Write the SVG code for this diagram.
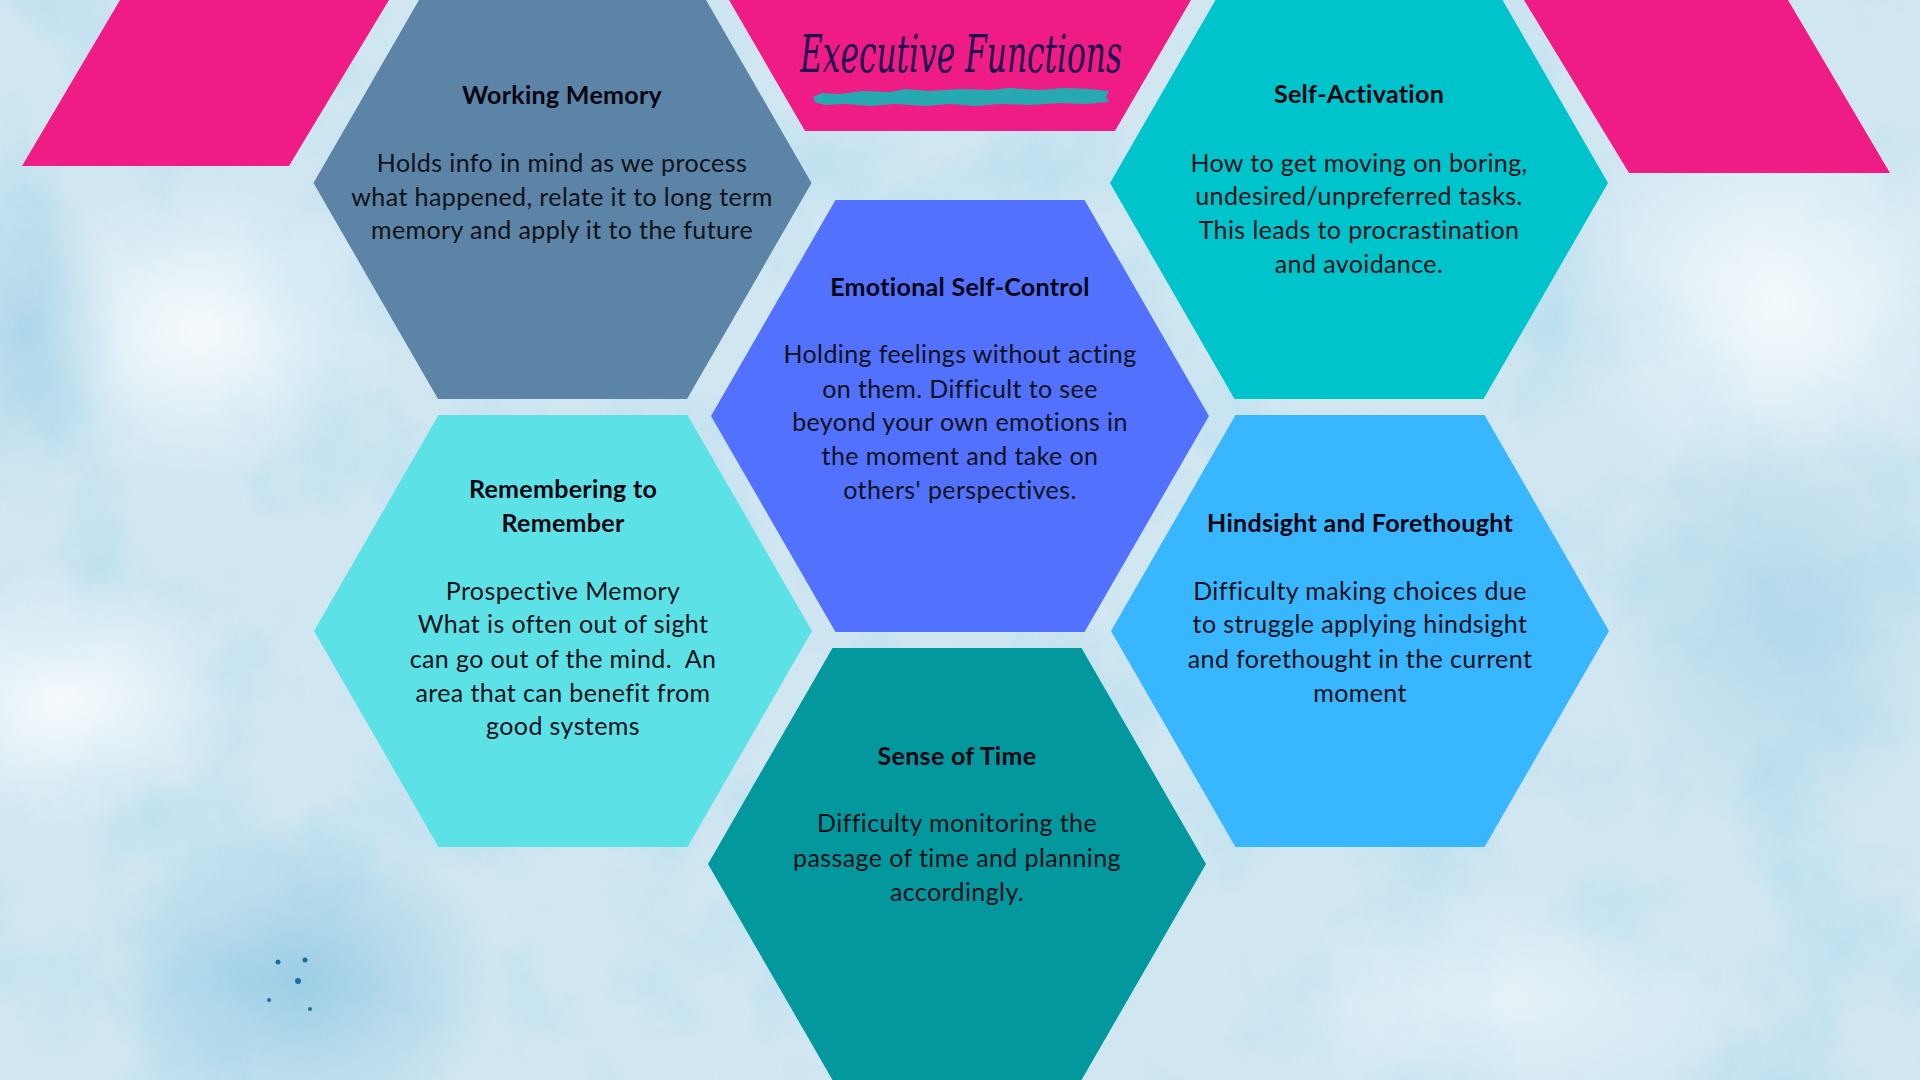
<svg xmlns="http://www.w3.org/2000/svg" width="1920" height="1080" viewBox="0 0 1920 1080">
<defs>
<style>
.hd{font-family:Lato,"Open Sans","Liberation Sans",sans-serif;font-weight:700;font-size:25px;letter-spacing:0.3px;fill:#050510;text-anchor:middle}
.bd{font-family:Lato,"Open Sans","Liberation Sans",sans-serif;font-weight:400;font-size:25px;letter-spacing:0.4px;fill:#111118;text-anchor:middle}
.pink{fill:#EE1C84}
</style>
<radialGradient id="g1" cx="0.5" cy="0.5" r="0.5"><stop offset="0" stop-color="#ffffff" stop-opacity="0.8"/><stop offset="1" stop-color="#ffffff" stop-opacity="0"/></radialGradient>
<radialGradient id="g2" cx="0.5" cy="0.5" r="0.5"><stop offset="0" stop-color="#5aaed6" stop-opacity="0.45"/><stop offset="1" stop-color="#5aaed6" stop-opacity="0"/></radialGradient>
<filter id="tex" x="0" y="0" width="1" height="1">
<feTurbulence type="fractalNoise" baseFrequency="0.008" numOctaves="6" seed="7"/>
<feColorMatrix type="matrix" values="0 0 0 0 0.42  0 0 0 0 0.70  0 0 0 0 0.86  0 0 0 1.5 -0.68"/>
</filter>
<filter id="fine" x="0" y="0" width="1" height="1">
<feTurbulence type="fractalNoise" baseFrequency="0.9" numOctaves="2" seed="3"/>
<feColorMatrix type="matrix" values="0 0 0 0 1  0 0 0 0 1  0 0 0 0 1  0 0 0 0.5 -0.2"/>
</filter>
</defs>

<g id="background">
<rect width="1920" height="1080" fill="#cfe6f1"/>
<rect width="1920" height="1080" filter="url(#tex)" opacity="0.85"/>
<ellipse cx="60" cy="700" rx="190" ry="130" fill="url(#g1)"/>
<ellipse cx="200" cy="330" rx="200" ry="150" fill="url(#g1)"/>
<ellipse cx="1780" cy="300" rx="220" ry="200" fill="url(#g1)"/>
<ellipse cx="1500" cy="1000" rx="260" ry="120" fill="url(#g1)" opacity="0.6"/>
<ellipse cx="300" cy="980" rx="200" ry="160" fill="url(#g2)"/>
<ellipse cx="30" cy="330" rx="90" ry="150" fill="url(#g2)" opacity="0.7"/>
<ellipse cx="1780" cy="620" rx="170" ry="220" fill="url(#g2)" opacity="0.5"/>
<rect width="1920" height="1080" filter="url(#fine)" opacity="0.35"/>
<circle cx="298" cy="981" r="3" fill="#1e6e9c"/>
<circle cx="278" cy="962" r="2.5" fill="#1e6e9c"/>
<circle cx="305" cy="960" r="2.5" fill="#1e6e9c"/>
<circle cx="269" cy="1000" r="2" fill="#1e6e9c"/>
<circle cx="310" cy="1009" r="2" fill="#1e6e9c"/>
</g>

<g id="decor">
<polygon class="pink" points="120,0 389,0 289,166 22,166"/>
<polygon class="pink" points="1524,0 1788,0 1890,173 1629,173"/>
</g>

<g id="title">
<polygon class="pink" points="729,0 1191,0 1115,131 805,131"/>
<path d="M813,97 L822,93 L840,94 L862,91 L890,92 L905,89 L930,91 L960,89 L990,90 L1010,88 L1040,90 L1065,88 L1090,89 L1109,91 L1106,97 L1109,102 L1085,104 L1060,103 L1030,105 L1000,104 L975,106 L950,104 L925,106 L895,104 L870,106 L845,104 L825,105 L815,102 Z" fill="#27a9b2"/>
<text x="800" y="72" textLength="322" lengthAdjust="spacingAndGlyphs" font-family="'DejaVu Serif','Liberation Serif',serif" font-style="italic" font-size="52" fill="#1f0b50">Executive Functions</text>
</g>

<g id="working-memory">
<polygon fill="#5B84A6" points="313.5,183 438,-33 687,-33 811.5,183 687,399 438,399"/>
<text class="hd" x="562" y="104">Working Memory</text>
<text class="bd" x="562" y="172">Holds info in mind as we process</text>
<text class="bd" x="562" y="206">what happened, relate it to long term</text>
<text class="bd" x="562" y="239">memory and apply it to the future</text>
</g>

<g id="self-activation">
<polygon fill="#00C4CC" points="1110,183 1234.5,-33 1483.5,-33 1608,183 1483.5,399 1234.5,399"/>
<text class="hd" x="1359" y="103">Self-Activation</text>
<text class="bd" x="1359" y="172">How to get moving on boring,</text>
<text class="bd" x="1359" y="205">undesired/unpreferred tasks.</text>
<text class="bd" x="1359" y="239">This leads to procrastination</text>
<text class="bd" x="1359" y="273">and avoidance.</text>
</g>

<g id="emotional-self-control">
<polygon fill="#5271FF" points="711,416 835.5,200 1084.5,200 1209,416 1084.5,632 835.5,632"/>
<text class="hd" x="960" y="296">Emotional Self-Control</text>
<text class="bd" x="960" y="363">Holding feelings without acting</text>
<text class="bd" x="960" y="398">on them. Difficult to see</text>
<text class="bd" x="960" y="431">beyond your own emotions in</text>
<text class="bd" x="960" y="465">the moment and take on</text>
<text class="bd" x="960" y="499">others' perspectives.</text>
</g>

<g id="remembering-to-remember">
<polygon fill="#5CE1E6" points="314,631 438.5,415 687.5,415 812,631 687.5,847 438.5,847"/>
<text class="hd" x="563" y="498">Remembering to</text>
<text class="hd" x="563" y="532">Remember</text>
<text class="bd" x="563" y="600">Prospective Memory</text>
<text class="bd" x="563" y="633">What is often out of sight</text>
<text class="bd" x="563" y="668" xml:space="preserve">can go out of the mind.  An</text>
<text class="bd" x="563" y="702">area that can benefit from</text>
<text class="bd" x="563" y="735">good systems</text>
</g>

<g id="hindsight-forethought">
<polygon fill="#38B6FF" points="1111,631 1235.5,415 1484.5,415 1609,631 1484.5,847 1235.5,847"/>
<text class="hd" x="1360" y="532">Hindsight and Forethought</text>
<text class="bd" x="1360" y="600">Difficulty making choices due</text>
<text class="bd" x="1360" y="633">to struggle applying hindsight</text>
<text class="bd" x="1360" y="668">and forethought in the current</text>
<text class="bd" x="1360" y="702">moment</text>
</g>

<g id="sense-of-time">
<polygon fill="#03989E" points="708,864 832.5,648 1081.5,648 1206,864 1081.5,1080 832.5,1080"/>
<text class="hd" x="957" y="765">Sense of Time</text>
<text class="bd" x="957" y="832">Difficulty monitoring the</text>
<text class="bd" x="957" y="867">passage of time and planning</text>
<text class="bd" x="957" y="901">accordingly.</text>
</g>

<g id="connectors"/>
</svg>
